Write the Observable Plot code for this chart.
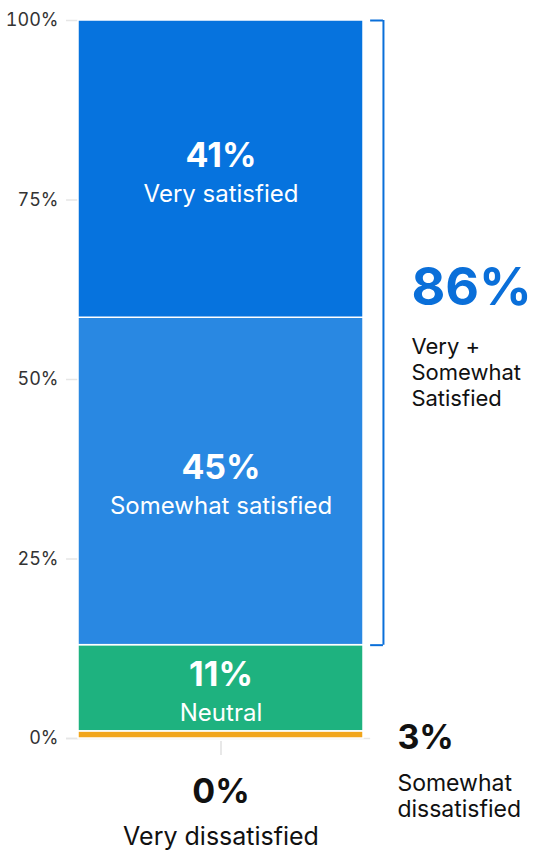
<!DOCTYPE html>
<html>
<head>
<meta charset="utf-8">
<script src="https://cdn.jsdelivr.net/npm/d3@7"></script>
<script src="https://cdn.jsdelivr.net/npm/@observablehq/plot@0.6"></script>
<style>
  html, body { margin: 0; padding: 0; background: #fff; }
  #chart { width: 543px; height: 858px; }
  #chart g[aria-label="y-axis tick label"] { font-size: 18px; }
</style>
</head>
<body>
<div id="chart"></div>
<script>
// Categories from bottom to top of the stacked bar
const categories = ["Very dissatisfied", "Somewhat dissatisfied", "Neutral", "Somewhat satisfied", "Very satisfied"];
// Segment heights as drawn in the picture (percent)
const drawnValues = [0, 1, 12, 45.6, 41.4];
// Printed labels
const valueLabels = ["0%", "3%", "11%", "45%", "41%"];
const colors = ["#1f1f1f", "#f1a51b", "#1eb27f", "#2988e2", "#0673de"];
const yTicks = [0, 25, 50, 75, 100];
const totalLabel = "86%";
const totalText = "Very +\nSomewhat\nSatisfied";

const ends = d3.cumsum(drawnValues);
const rows = categories.map((c, i) => ({
  category: c,
  value: drawnValues[i],
  label: valueLabels[i],
  color: colors[i],
  y1: ends[i] - drawnValues[i],
  y2: ends[i],
  mid: ends[i] - drawnValues[i] / 2
}));
const inside = rows.filter(d => d.value >= 5);
const bracket = { y1: rows[3].y1, y2: rows[4].y2 };
const blue = "#0a6fd9";
const font = "Inter, 'Noto Sans', sans-serif";

const chart = Plot.plot({
  width: 543,
  height: 858,
  marginTop: 20,
  marginBottom: 120,
  marginLeft: 78,
  marginRight: 180,
  style: { fontFamily: font, fontSize: "17px", background: "#fff", overflow: "visible" },
  x: { domain: [0, 1], axis: null },
  y: { domain: [0, 100] },
  marks: [
    Plot.ruleY(yTicks, { x1: -0.042, x2: 0, stroke: "#e6e6e6", strokeWidth: 1.5 }),
    Plot.ruleY([0], { x1: -0.042, x2: 1.025, stroke: "#e6e6e6", strokeWidth: 1.5 }),
    Plot.axisY({ ticks: yTicks, tickFormat: d => d + "%", tickSize: 0, tickPadding: 20, fontSize: 18, color: "#333" }),
    Plot.axisX({ ticks: [0.5], tickFormat: () => "", tickSize: 14, stroke: "#e0e0e0", strokeWidth: 1.5, dy: 3 }),
    Plot.rectY(rows.filter(d => d.value > 0), { x1: 0, x2: 1, y1: "y1", y2: "y2", fill: "color", stroke: "#fff", strokeWidth: 1.5 }),
    // inside labels
    Plot.text(inside, { x: 0.5, y: "mid", text: "label", dy: -13, fill: "#fff", fontSize: 34, fontWeight: 700 }),
    Plot.text(inside, { x: 0.5, y: "mid", text: "category", dy: 25, fill: "#fff", fontSize: 24 }),
    // Very dissatisfied below axis
    Plot.text([rows[0]], { x: 0.5, y: 0, text: "label", dy: 54, fill: "#111", fontSize: 34, fontWeight: 700 }),
    Plot.text([rows[0]], { x: 0.5, y: 0, text: "category", dy: 98, fill: "#111", fontSize: 25 }),
    // Somewhat dissatisfied at right
    Plot.text([rows[1]], { x: 1.119, y: 0, text: "label", textAnchor: "start", fill: "#111", fontSize: 34, fontWeight: 700 }),
    Plot.text([rows[1]], { x: 1.119, y: 0, text: () => "Somewhat\ndissatisfied", textAnchor: "start", dy: 57, lineHeight: 1.13, fill: "#111", fontSize: 23 }),
    // bracket
    Plot.ruleX([1.07], { y1: bracket.y1, y2: bracket.y2, stroke: blue, strokeWidth: 2 }),
    Plot.ruleY([bracket.y1, bracket.y2], { x1: 1.025, x2: 1.07, stroke: blue, strokeWidth: 2 }),
    Plot.text([bracket], { x: 1.168, y: d => (d.y1 + d.y2) / 2, text: () => totalLabel, textAnchor: "start", dy: -44, fill: blue, fontSize: 52, fontWeight: 700 }),
    Plot.text([bracket], { x: 1.168, y: d => (d.y1 + d.y2) / 2, text: () => totalText, textAnchor: "start", dy: 39, lineHeight: 1.18, fill: "#111", fontSize: 22 })
  ]
});
document.getElementById("chart").appendChild(chart);
</script>
</body>
</html>
